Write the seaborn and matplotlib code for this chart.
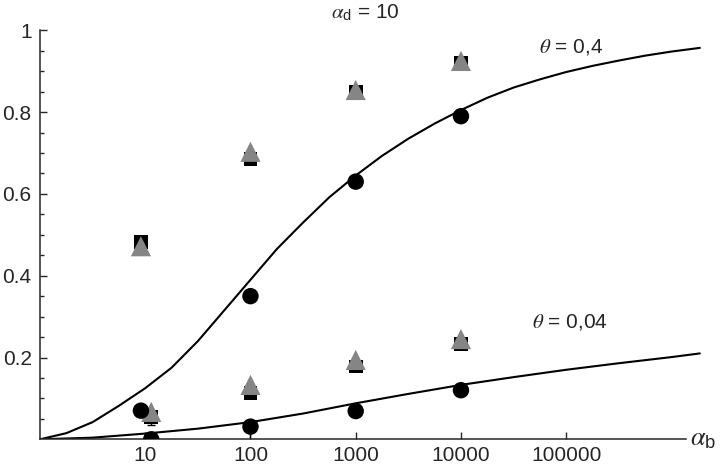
import numpy as np
import pandas as pd
import seaborn as sns
import matplotlib.pyplot as plt
from matplotlib.ticker import NullLocator

# theoretical curves (exponent of alpha_b, value)
curve_logx_hi = [0, 0.25, 0.5, 0.75, 1.0, 1.25, 1.5, 1.75, 2.0, 2.25, 2.5, 2.75,
                 3.0, 3.25, 3.5, 3.75, 4.0, 4.25, 4.5, 4.75, 5.0, 5.25, 5.5,
                 5.75, 6.0, 6.27]
curve_y_hi = [0, 0.015, 0.042, 0.082, 0.125, 0.175, 0.24, 0.315, 0.39, 0.465, 0.53, 0.592,
              0.645, 0.693, 0.735, 0.772, 0.805, 0.835, 0.86, 0.88, 0.898, 0.913, 0.926,
              0.938, 0.948, 0.957]
curve_logx_lo = [0, 0.5, 1.0, 1.5, 2.0, 2.5, 3.0, 3.5, 4.0, 4.5, 5.0, 5.5, 6.0, 6.27]
curve_y_lo = [0, 0.004, 0.014, 0.026, 0.042, 0.063, 0.088, 0.111, 0.133, 0.152,
              0.17, 0.186, 0.201, 0.21]

# measured points
x_hi = [9.1, 100, 1000, 10000]     # theta = 0.4 group
x_lo = [11.4, 100, 1000, 10000]    # theta = 0.04 group
circ_hi = [0.07, 0.35, 0.63, 0.79]
sq_hi = [0.483, 0.685, 0.85, 0.92]
tri_hi = [0.472, 0.703, 0.854, 0.925]
circ_lo = [0.0, 0.031, 0.069, 0.12]
sq_lo = [0.055, 0.113, 0.178, 0.232]
tri_lo = [0.067, 0.133, 0.194, 0.245]
sq_lo_err = [0.02, 0.013, 0.0, 0.0]
circ_lo_err = [0.0, 0.031, 0.0, 0.0]

xticks = [10, 100, 1000, 10000, 100000]
xticklabels = ["10", "100", "1000", "10000", "100000"]
yticks = [0.2, 0.4, 0.6, 0.8, 1.0]
yticklabels = ["0.2", "0.4", "0.6", "0.8", "1"]

sns.set_style("ticks")
plt.rcParams['font.family'] = ['Liberation Sans', 'DejaVu Sans']
plt.rcParams['mathtext.fontset'] = 'stix'
fs = 15

fig = plt.figure(figsize=(7.2, 4.67), dpi=100)
ax = fig.add_axes([40 / 720, (467 - 439.3) / 467, 663 / 720, 409 / 467])

hi = pd.DataFrame({'x': 10 ** np.array(curve_logx_hi), 'y': curve_y_hi})
lo = pd.DataFrame({'x': 10 ** np.array(curve_logx_lo), 'y': curve_y_lo})
sns.lineplot(data=hi, x='x', y='y', color='black', lw=1.5, ax=ax)
sns.lineplot(data=lo, x='x', y='y', color='black', lw=1.5, ax=ax)

# error bars under the markers
ax.errorbar(x_lo, sq_lo, yerr=[sq_lo_err, [0] * 4], fmt='none', ecolor='black',
            elinewidth=1, capsize=3, zorder=2)
ax.errorbar(x_lo, circ_lo, yerr=[circ_lo_err, [0] * 4], fmt='none', ecolor='black',
            elinewidth=1, capsize=0, zorder=2)

for xs, ys in [(x_hi, sq_hi), (x_lo, sq_lo)]:
    sns.scatterplot(x=xs, y=ys, marker='s', s=100, color='black', edgecolor='none',
                    ax=ax, zorder=3)
for xs, ys in [(x_hi, tri_hi), (x_lo, tri_lo)]:
    sns.scatterplot(x=xs, y=ys, marker='^', s=210, color='#858585', edgecolor='none',
                    ax=ax, zorder=4)
for xs, ys in [(x_hi, circ_hi), (x_lo, circ_lo)]:
    sns.scatterplot(x=xs, y=ys, marker='o', s=140, color='black', edgecolor='none',
                    ax=ax, zorder=5)

ax.set_xscale('log')
ax.set_xlim(1, 10 ** 6.3)
ax.set_ylim(0, 1)
ax.set_xticks(xticks, xticklabels)
ax.xaxis.set_minor_locator(NullLocator())
ax.set_yticks(yticks, yticklabels)
ax.set_yticks(np.arange(1, 20) * 0.05, minor=True)
ax.tick_params(axis='x', which='major', direction='in', length=5, width=1,
               pad=5, labelsize=fs)
ax.tick_params(axis='y', which='major', direction='in', length=5, width=1,
               pad=6, labelsize=fs)
ax.tick_params(axis='y', which='minor', direction='in', length=3, width=1)
ax.set_xlabel('')
ax.set_ylabel('')

for side in ['top', 'right']:
    ax.spines[side].set_visible(False)
ax.spines['left'].set_linewidth(1.1)
ax.spines['bottom'].set_linewidth(1.1)
ax.spines['bottom'].set_bounds(1, 10 ** 6.14)

ax.text(10 ** 5.05, 0.96, r'$\theta$ = 0,4', fontsize=fs, ha='center', va='center')
ax.text(10 ** 5.04, 0.287, r'$\theta$ = 0,04', fontsize=fs, ha='center', va='center')
ax.text(10 ** 6.18, 0.0, r'$\alpha_{\mathregular{b}}$', fontsize=fs + 4, ha='left',
        va='center', clip_on=False)
fig.text(365 / 720, 1 - 13 / 467, r'$\alpha_{\mathregular{d}}$ = 10', fontsize=fs,
         ha='center', va='center')

plt.savefig('out.png', dpi=100)
